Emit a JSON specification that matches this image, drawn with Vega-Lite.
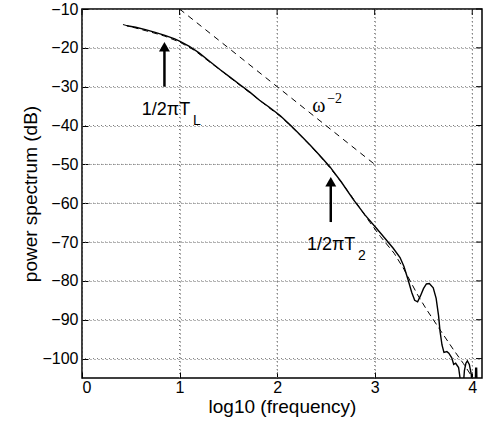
{
  "$schema": "https://vega.github.io/schema/vega-lite/v6.json",
  "width": 400,
  "height": 369,
  "autosize": "none",
  "padding": {"left": 82, "top": 9, "right": 2, "bottom": 51},
  "background": "white",
  "config": {
    "font": "Liberation Sans",
    "view": {"stroke": "black", "strokeWidth": 1.5},
    "axis": {
      "labelFont": "Liberation Sans",
      "labelFontSize": 16,
      "labelColor": "black",
      "titleFont": "Liberation Sans",
      "titleFontSize": 19,
      "titleFontWeight": "normal",
      "titleColor": "black",
      "tickColor": "black",
      "tickSize": -6,
      "domain": false,
      "gridColor": "#666",
      "gridDash": [1, 3]
    }
  },
  "datasets": {
    "spectrum": [
      {"f": 0.46, "p": -14.3}, {"f": 0.55, "p": -14.7}, {"f": 0.65, "p": -15.3}, {"f": 0.75, "p": -16.0},
      {"f": 0.85, "p": -16.8}, {"f": 0.95, "p": -17.7}, {"f": 1.0, "p": -18.3}, {"f": 1.1, "p": -19.6},
      {"f": 1.2, "p": -21.3}, {"f": 1.31, "p": -23.5}, {"f": 1.42, "p": -25.7}, {"f": 1.52, "p": -27.6},
      {"f": 1.62, "p": -29.5}, {"f": 1.72, "p": -31.4}, {"f": 1.82, "p": -33.5}, {"f": 1.92, "p": -35.3},
      {"f": 2.03, "p": -37.4}, {"f": 2.14, "p": -40.0}, {"f": 2.24, "p": -42.5}, {"f": 2.34, "p": -45.1},
      {"f": 2.44, "p": -47.8}, {"f": 2.54, "p": -50.6}, {"f": 2.66, "p": -54.6}, {"f": 2.78, "p": -59.0},
      {"f": 2.9, "p": -63.0}, {"f": 3.02, "p": -66.5}, {"f": 3.1, "p": -68.9}, {"f": 3.19, "p": -71.6},
      {"f": 3.26, "p": -74.0}, {"f": 3.3, "p": -76.3}, {"f": 3.34, "p": -79.5}, {"f": 3.38, "p": -83.0},
      {"f": 3.41, "p": -85.0}, {"f": 3.44, "p": -85.4}, {"f": 3.47, "p": -83.8}, {"f": 3.5, "p": -82.0},
      {"f": 3.53, "p": -80.8}, {"f": 3.56, "p": -80.7}, {"f": 3.6, "p": -81.8}, {"f": 3.63, "p": -84.5},
      {"f": 3.655, "p": -89.0}, {"f": 3.67, "p": -93.0}, {"f": 3.69, "p": -96.5}, {"f": 3.71, "p": -98.4},
      {"f": 3.74, "p": -98.2}, {"f": 3.76, "p": -98.6}, {"f": 3.79, "p": -99.8}, {"f": 3.81, "p": -101.5},
      {"f": 3.83, "p": -101.2}, {"f": 3.86, "p": -102.3}, {"f": 3.875, "p": -105.0}, {"f": 3.885, "p": -108.0},
      {"f": 3.905, "p": -108.0}, {"f": 3.92, "p": -103.0}, {"f": 3.935, "p": -101.2}, {"f": 3.95, "p": -100.6},
      {"f": 3.97, "p": -101.5}, {"f": 3.99, "p": -104.0}, {"f": 4.0, "p": -108.0}, {"f": 4.03, "p": -108.0},
      {"f": 4.035, "p": -102.5}, {"f": 4.045, "p": -102.5}, {"f": 4.05, "p": -108.0}
    ],
    "model": [
      {"f": 0.42, "p": -14.0}, {"f": 0.55, "p": -14.9}, {"f": 0.7, "p": -15.9}, {"f": 0.85, "p": -17.0},
      {"f": 1.0, "p": -18.5}, {"f": 1.15, "p": -20.6}, {"f": 1.3, "p": -23.5}, {"f": 1.45, "p": -26.3},
      {"f": 1.6, "p": -29.3}, {"f": 1.75, "p": -32.1}, {"f": 1.9, "p": -35.1}, {"f": 2.05, "p": -38.0},
      {"f": 2.2, "p": -41.6}, {"f": 2.35, "p": -45.4}, {"f": 2.5, "p": -49.6}, {"f": 2.65, "p": -54.3},
      {"f": 2.8, "p": -59.5}, {"f": 2.95, "p": -64.9}, {"f": 3.06, "p": -68.6}, {"f": 3.2, "p": -72.9},
      {"f": 3.3, "p": -77.0}, {"f": 3.44, "p": -83.6}, {"f": 3.53, "p": -87.3}, {"f": 3.67, "p": -92.6},
      {"f": 3.81, "p": -97.8}, {"f": 3.91, "p": -101.3}, {"f": 3.98, "p": -104.0}, {"f": 4.02, "p": -105.5}
    ],
    "omega": [{"f": 1.0, "p": -10}, {"f": 3.0, "p": -50}],
    "xgrid": [{"v": 1}, {"v": 2}, {"v": 3}, {"v": 4}],
    "ygrid": [{"v": -100}, {"v": -90}, {"v": -80}, {"v": -70}, {"v": -60}, {"v": -50}, {"v": -40}, {"v": -30}, {"v": -20}],
    "xticks": [{"v": 0}, {"v": 1}, {"v": 2}, {"v": 3}, {"v": 4}],
    "yticks": [{"v": -100}, {"v": -90}, {"v": -80}, {"v": -70}, {"v": -60}, {"v": -50}, {"v": -40}, {"v": -30}, {"v": -20}, {"v": -10}],
    "arrows": [
      {"f": 0.845, "p0": -30.0, "p1": -20.5, "tip": -19.7},
      {"f": 2.55, "p0": -64.85, "p1": -55.5, "tip": -54.5}
    ],
    "labels": [
      {"f": 0.612, "p": -37.3, "t": "1/2πT"},
      {"f": 2.305, "p": -72.1, "t": "1/2πT"}
    ],
    "subs": [
      {"f": 1.138, "p": -39.9, "t": "L"},
      {"f": 2.83, "p": -74.7, "t": "2"}
    ],
    "omegaText": [{"f": 2.359, "p": -36.5, "t": "ω"}],
    "omegaSup": [{"f": 2.513, "p": -34.2, "t": "−2"}]
  },
  "layer": [
    {
      "data": {"name": "xgrid"},
      "mark": {"type": "rule", "color": "#777", "strokeWidth": 1, "strokeDash": [1, 3]},
      "encoding": {
        "x": {"field": "v", "type": "quantitative", "scale": {"domain": [0, 4.1], "nice": false, "zero": false},
              "axis": {"orient": "bottom", "values": [0, 1, 2, 3, 4], "format": "d", "title": "log10 (frequency)", "grid": true, "labelPadding": 7, "titlePadding": 2}}
      }
    },
    {
      "data": {"name": "ygrid"},
      "mark": {"type": "rule", "color": "#777", "strokeWidth": 1, "strokeDash": [1, 3]},
      "encoding": {
        "y": {"field": "v", "type": "quantitative", "scale": {"domain": [-105, -10], "nice": false, "zero": false},
              "axis": {"orient": "left", "values": [-100, -90, -80, -70, -60, -50, -40, -30, -20, -10], "format": "d", "title": "power spectrum (dB)", "grid": true, "labelPadding": 10, "titlePadding": 1}}
      }
    },
    {
      "data": {"name": "spectrum"},
      "mark": {"type": "line", "color": "black", "strokeWidth": 1.4, "clip": true},
      "encoding": {
        "x": {"field": "f", "type": "quantitative", "scale": {"domain": [0, 4.1], "nice": false, "zero": false}},
        "y": {"field": "p", "type": "quantitative", "scale": {"domain": [-105, -10], "nice": false, "zero": false}}
      }
    },
    {
      "data": {"name": "model"},
      "mark": {"type": "line", "color": "black", "strokeWidth": 1, "strokeDash": [6, 4], "clip": true},
      "encoding": {
        "x": {"field": "f", "type": "quantitative"},
        "y": {"field": "p", "type": "quantitative"}
      }
    },
    {
      "data": {"name": "omega"},
      "mark": {"type": "line", "color": "black", "strokeWidth": 1, "strokeDash": [6, 5], "clip": true},
      "encoding": {
        "x": {"field": "f", "type": "quantitative"},
        "y": {"field": "p", "type": "quantitative"}
      }
    },
    {
      "data": {"name": "xticks"},
      "mark": {"type": "rule", "color": "black", "strokeWidth": 1},
      "encoding": {
        "x": {"field": "v", "type": "quantitative"},
        "y": {"datum": -10},
        "y2": {"datum": -11.55}
      }
    },
    {
      "data": {"name": "yticks"},
      "mark": {"type": "rule", "color": "black", "strokeWidth": 1},
      "encoding": {
        "y": {"field": "v", "type": "quantitative"},
        "x": {"datum": 4.1},
        "x2": {"datum": 4.0385}
      }
    },
    {
      "data": {"name": "arrows"},
      "mark": {"type": "rule", "color": "black", "strokeWidth": 2.5},
      "encoding": {
        "x": {"field": "f", "type": "quantitative"},
        "y": {"field": "p0", "type": "quantitative"},
        "y2": {"field": "p1"}
      }
    },
    {
      "data": {"name": "arrows"},
      "mark": {"type": "point", "shape": "triangle-up", "filled": true, "color": "black", "size": 120, "opacity": 1},
      "encoding": {
        "x": {"field": "f", "type": "quantitative"},
        "y": {"field": "tip", "type": "quantitative"}
      }
    },
    {
      "data": {"name": "labels"},
      "mark": {"type": "text", "align": "left", "baseline": "alphabetic", "fontSize": 18, "font": "Liberation Sans", "color": "black"},
      "encoding": {
        "x": {"field": "f", "type": "quantitative"},
        "y": {"field": "p", "type": "quantitative"},
        "text": {"field": "t"}
      }
    },
    {
      "data": {"name": "subs"},
      "mark": {"type": "text", "align": "left", "baseline": "alphabetic", "fontSize": 14, "font": "Liberation Sans", "color": "black"},
      "encoding": {
        "x": {"field": "f", "type": "quantitative"},
        "y": {"field": "p", "type": "quantitative"},
        "text": {"field": "t"}
      }
    },
    {
      "data": {"name": "omegaText"},
      "mark": {"type": "text", "align": "left", "baseline": "alphabetic", "fontSize": 20, "font": "Liberation Serif", "color": "black"},
      "encoding": {
        "x": {"field": "f", "type": "quantitative"},
        "y": {"field": "p", "type": "quantitative"},
        "text": {"field": "t"}
      }
    },
    {
      "data": {"name": "omegaSup"},
      "mark": {"type": "text", "align": "left", "baseline": "alphabetic", "fontSize": 14, "font": "Liberation Serif", "color": "black"},
      "encoding": {
        "x": {"field": "f", "type": "quantitative"},
        "y": {"field": "p", "type": "quantitative"},
        "text": {"field": "t"}
      }
    }
  ]
}
